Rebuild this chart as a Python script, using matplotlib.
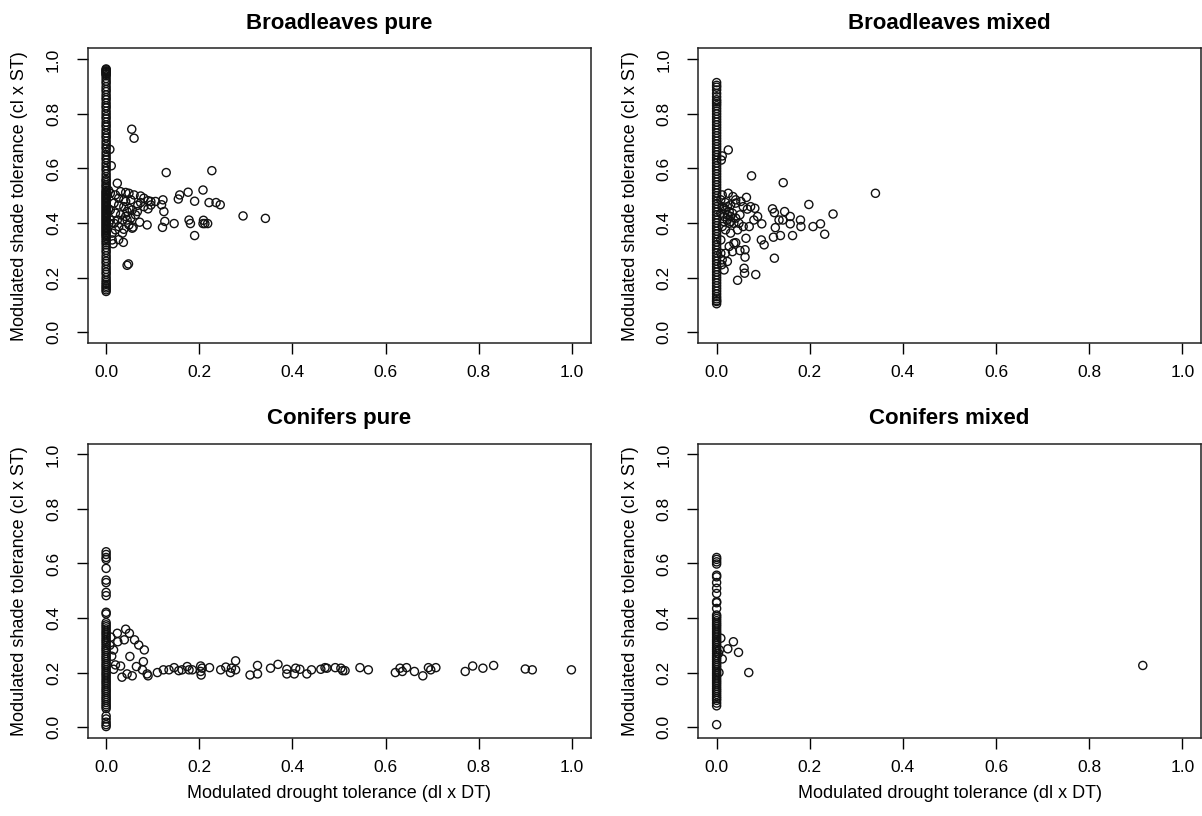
import matplotlib
matplotlib.use("Agg")
import matplotlib.pyplot as plt

plt.rcParams['font.family'] = ['Liberation Sans', 'DejaVu Sans']

titles = ["Broadleaves pure", "Broadleaves mixed", "Conifers pure", "Conifers mixed"]
xlabel = "Modulated drought tolerance (dl x DT)"
ylabel = "Modulated shade tolerance (cl x ST)"
ticks = [0.0, 0.2, 0.4, 0.6, 0.8, 1.0]
tick_labels = ["0.0", "0.2", "0.4", "0.6", "0.8", "1.0"]

# ---------------- Broadleaves pure ----------------
bp_col_y = [0.965, 0.962, 0.958, 0.955, 0.952, 0.948, 0.945, 0.94, 0.93, 0.92, 0.912, 0.90,
            0.89, 0.882, 0.87, 0.86, 0.852, 0.84, 0.83, 0.822, 0.81, 0.80, 0.79, 0.782,
            0.77, 0.76, 0.752, 0.74, 0.73, 0.72, 0.712, 0.70, 0.69, 0.68, 0.672, 0.66,
            0.65, 0.64, 0.632, 0.62, 0.61, 0.60, 0.592, 0.58, 0.57, 0.56, 0.555, 0.548,
            0.54, 0.535, 0.528, 0.52, 0.515, 0.51, 0.505, 0.50, 0.495, 0.49, 0.485, 0.48,
            0.475, 0.47, 0.465, 0.46, 0.455, 0.45, 0.445, 0.44, 0.435, 0.43, 0.425, 0.42,
            0.415, 0.41, 0.405, 0.40, 0.395, 0.39, 0.385, 0.38, 0.375, 0.37, 0.365, 0.36,
            0.355, 0.35, 0.343, 0.335, 0.328, 0.32, 0.31, 0.30, 0.292, 0.28, 0.27, 0.26,
            0.252, 0.24, 0.23, 0.22, 0.212, 0.20, 0.19, 0.182, 0.175, 0.168, 0.162, 0.155,
            0.149]
bp_pts_x = [0.011, 0.008, 0.055, 0.060, 0.129, 0.227, 0.024, 0.208, 0.176, 0.158, 0.155,
            0.190, 0.221, 0.236, 0.245, 0.122, 0.119, 0.124, 0.294, 0.342, 0.178, 0.181,
            0.209, 0.212, 0.218, 0.208, 0.146, 0.126, 0.121, 0.190, 0.088, 0.072, 0.048,
            0.045, 0.015, 0.037, 0.027,
            0.031, 0.042, 0.049, 0.060, 0.074, 0.081, 0.090, 0.096, 0.106, 0.017, 0.027,
            0.038, 0.049, 0.056, 0.067, 0.081, 0.090, 0.020, 0.031, 0.042, 0.053, 0.063,
            0.017, 0.027, 0.038, 0.049, 0.056, 0.024, 0.035, 0.045, 0.013, 0.020, 0.035,
            0.042, 0.074, 0.068, 0.096, 0.009, 0.009, 0.009, 0.013, 0.058, 0.045, 0.038,
            0.053, 0.027, 0.020, 0.005, 0.006, 0.005]
bp_pts_y = [0.610, 0.670, 0.744, 0.711, 0.585, 0.592, 0.546, 0.521, 0.513, 0.503, 0.488,
            0.480, 0.475, 0.475, 0.467, 0.485, 0.467, 0.442, 0.426, 0.417, 0.411, 0.398,
            0.410, 0.398, 0.398, 0.398, 0.398, 0.406, 0.384, 0.354, 0.393, 0.403, 0.250,
            0.245, 0.324, 0.329, 0.339,
            0.515, 0.512, 0.509, 0.503, 0.499, 0.491, 0.482, 0.479, 0.479, 0.473, 0.466,
            0.460, 0.454, 0.448, 0.442, 0.460, 0.452, 0.436, 0.430, 0.424, 0.418, 0.430,
            0.399, 0.387, 0.377, 0.393, 0.381, 0.411, 0.411, 0.411, 0.363, 0.375, 0.363,
            0.479, 0.475, 0.465, 0.466, 0.509, 0.448, 0.411, 0.338, 0.385, 0.442, 0.485,
            0.485, 0.491, 0.503, 0.45, 0.40, 0.52]

# ---------------- Broadleaves mixed ----------------
bm_col_y = [0.915, 0.905, 0.898, 0.888, 0.875, 0.863, 0.852, 0.845, 0.838, 0.83, 0.82, 0.81,
            0.80, 0.79, 0.78, 0.77, 0.76, 0.75, 0.74, 0.73, 0.72, 0.71, 0.70, 0.69, 0.68,
            0.67, 0.66, 0.65, 0.64, 0.63, 0.62, 0.61, 0.60, 0.59, 0.58, 0.57, 0.56, 0.55,
            0.54, 0.53, 0.52, 0.51, 0.50, 0.49, 0.48, 0.47, 0.46, 0.45, 0.44, 0.43, 0.42,
            0.41, 0.40, 0.39, 0.38, 0.37, 0.36, 0.35, 0.34, 0.33, 0.32, 0.31, 0.30, 0.29,
            0.28, 0.27, 0.26, 0.25, 0.24, 0.23, 0.22, 0.21, 0.20, 0.19, 0.18, 0.17, 0.16,
            0.15, 0.14, 0.13, 0.122, 0.115, 0.112, 0.104]
bm_pts_x = [0.025, 0.012, 0.010, 0.075, 0.143, 0.341, 0.198, 0.250, 0.120, 0.124, 0.146,
            0.158, 0.142, 0.134, 0.158, 0.180, 0.181, 0.207, 0.223, 0.232, 0.163, 0.137,
            0.122, 0.126, 0.096, 0.102, 0.124, 0.084, 0.060, 0.059, 0.045, 0.063, 0.061,
            0.061, 0.050, 0.064, 0.066, 0.073, 0.082, 0.088, 0.097, 0.080, 0.070, 0.057,
            0.025, 0.035, 0.041, 0.050,
            0.012, 0.019, 0.027, 0.034, 0.016, 0.023, 0.030, 0.037, 0.041, 0.012, 0.019,
            0.030, 0.037, 0.027, 0.019, 0.012, 0.016, 0.011, 0.023, 0.034, 0.041, 0.048,
            0.045, 0.009, 0.012, 0.019, 0.030, 0.041, 0.052, 0.057, 0.009, 0.009, 0.009,
            0.016, 0.023, 0.027, 0.016, 0.023, 0.030]
bm_pts_y = [0.668, 0.646, 0.631, 0.573, 0.548, 0.509, 0.468, 0.433, 0.452, 0.438, 0.442,
            0.424, 0.411, 0.411, 0.397, 0.411, 0.387, 0.387, 0.397, 0.359, 0.354, 0.354,
            0.348, 0.383, 0.338, 0.320, 0.271, 0.211, 0.216, 0.234, 0.190, 0.344, 0.302,
            0.275, 0.299, 0.494, 0.451, 0.460, 0.454, 0.424, 0.397, 0.411, 0.387, 0.387,
            0.509, 0.497, 0.473, 0.430,
            0.460, 0.448, 0.442, 0.436, 0.424, 0.411, 0.405, 0.399, 0.418, 0.387, 0.375,
            0.363, 0.326, 0.314, 0.289, 0.265, 0.228, 0.247, 0.259, 0.295, 0.328, 0.399,
            0.375, 0.485, 0.503, 0.475, 0.466, 0.485, 0.479, 0.460, 0.436, 0.289, 0.338,
            0.454, 0.430, 0.399, 0.405, 0.460, 0.424]

# ---------------- Conifers pure ----------------
cp_col_y = [0.643, 0.633, 0.622, 0.615, 0.582, 0.539, 0.530, 0.494, 0.482, 0.421, 0.415,
            0.383, 0.375, 0.368, 0.36, 0.352, 0.345, 0.338, 0.33, 0.322, 0.315, 0.308, 0.30,
            0.292, 0.285, 0.278, 0.27, 0.262, 0.255, 0.248, 0.24, 0.232, 0.225, 0.218, 0.21,
            0.202, 0.195, 0.188, 0.18, 0.172, 0.165, 0.158, 0.15, 0.142, 0.135, 0.128, 0.12,
            0.112, 0.105, 0.098, 0.09, 0.082, 0.075, 0.068, 0.041, 0.030, 0.018, 0.009,
            0.002]
cp_pts_x = [0.024, 0.042, 0.050, 0.061, 0.070, 0.082, 0.039, 0.025, 0.016, 0.051, 0.080,
            0.065, 0.031, 0.016, 0.020, 0.034, 0.045, 0.056, 0.078, 0.090, 0.088, 0.010,
            0.008, 0.012,
            0.110, 0.123, 0.135, 0.146, 0.156, 0.163, 0.174, 0.178, 0.185, 0.203, 0.203,
            0.204, 0.206, 0.222, 0.246, 0.257, 0.267, 0.269, 0.278, 0.278, 0.309, 0.325,
            0.325, 0.353, 0.369, 0.388, 0.388, 0.404, 0.407, 0.416, 0.431, 0.441, 0.461,
            0.470, 0.474, 0.492, 0.504, 0.508, 0.513, 0.545, 0.563, 0.621, 0.631, 0.636,
            0.645, 0.662, 0.680, 0.692, 0.697, 0.708, 0.771, 0.787, 0.809, 0.832, 0.900,
            0.915, 0.999]
cp_pts_y = [0.344, 0.359, 0.344, 0.320, 0.301, 0.283, 0.320, 0.313, 0.283, 0.259, 0.240,
            0.222, 0.224, 0.212, 0.228, 0.183, 0.195, 0.188, 0.210, 0.188, 0.195, 0.33,
            0.30, 0.26,
            0.200, 0.210, 0.210, 0.218, 0.207, 0.210, 0.222, 0.210, 0.210, 0.224, 0.204,
            0.191, 0.216, 0.218, 0.210, 0.220, 0.200, 0.216, 0.243, 0.210, 0.191, 0.195,
            0.226, 0.216, 0.230, 0.212, 0.195, 0.195, 0.216, 0.212, 0.195, 0.210, 0.212,
            0.218, 0.216, 0.218, 0.216, 0.207, 0.207, 0.218, 0.210, 0.200, 0.216, 0.204,
            0.218, 0.204, 0.188, 0.218, 0.210, 0.218, 0.204, 0.224, 0.216, 0.226, 0.213,
            0.210, 0.210]

# ---------------- Conifers mixed ----------------
cm_col_y = [0.622, 0.615, 0.606, 0.598, 0.557, 0.551, 0.530, 0.509, 0.490, 0.460, 0.456,
            0.435, 0.411, 0.405, 0.398, 0.39, 0.382, 0.375, 0.368, 0.36, 0.352, 0.345, 0.338,
            0.33, 0.322, 0.315, 0.308, 0.30, 0.292, 0.285, 0.278, 0.27, 0.262, 0.255, 0.248,
            0.24, 0.232, 0.225, 0.218, 0.21, 0.202, 0.195, 0.188, 0.18, 0.172, 0.165, 0.158,
            0.15, 0.142, 0.135, 0.128, 0.12, 0.112, 0.105, 0.098, 0.088, 0.078, 0.009]
cm_pts_x = [0.009, 0.036, 0.024, 0.047, 0.012, 0.006, 0.069, 0.915, 0.004, 0.005]
cm_pts_y = [0.326, 0.313, 0.287, 0.274, 0.250, 0.283, 0.200, 0.226, 0.27, 0.20]

panels = [
    (bp_col_y, bp_pts_x, bp_pts_y),
    (bm_col_y, bm_pts_x, bm_pts_y),
    (cp_col_y, cp_pts_x, cp_pts_y),
    (cm_col_y, cm_pts_x, cm_pts_y),
]

W, H = 1202, 816
fig = plt.figure(figsize=(W / 100, H / 100), dpi=100)
ax_w, ax_h = 503, 294.5
lefts = [87.5, 698]
tops = [48.5, 443.5]

for i, (col_y, px, py) in enumerate(panels):
    r, c = divmod(i, 2)
    left = lefts[c]
    top = tops[r]
    ax = fig.add_axes([left / W, (H - top - ax_h) / H, ax_w / W, ax_h / H])
    xs = [0.0] * len(col_y) + list(px)
    ys = list(col_y) + list(py)
    ax.scatter(xs, ys, s=34, facecolors='none', edgecolors='#111111', linewidths=1.0)
    ax.set_xlim(-0.04, 1.04)
    ax.set_ylim(-0.04, 1.04)
    ax.set_xticks(ticks)
    ax.set_xticklabels(tick_labels)
    ax.set_yticks(ticks)
    ax.set_yticklabels(tick_labels, rotation=90, va='center')
    ax.tick_params(axis='both', direction='out', length=8, width=1, labelsize=12.5, colors='black')
    ax.tick_params(axis='x', pad=7.5)
    ax.tick_params(axis='y', pad=11)
    for sp in ax.spines.values():
        sp.set_linewidth(1.1)
        sp.set_color('#222222')
    ax.set_title(titles[i], fontsize=16, fontweight='bold', pad=14)
    ax.set_ylabel(ylabel, fontsize=13, va='center')
    ax.yaxis.set_label_coords(-67.5 / ax_w, 0.5)
    if r == 1:
        ax.set_xlabel(xlabel, fontsize=13, va='center')
        ax.xaxis.set_label_coords(0.5, -55 / ax_h)

fig.savefig("out.png", dpi=100)
